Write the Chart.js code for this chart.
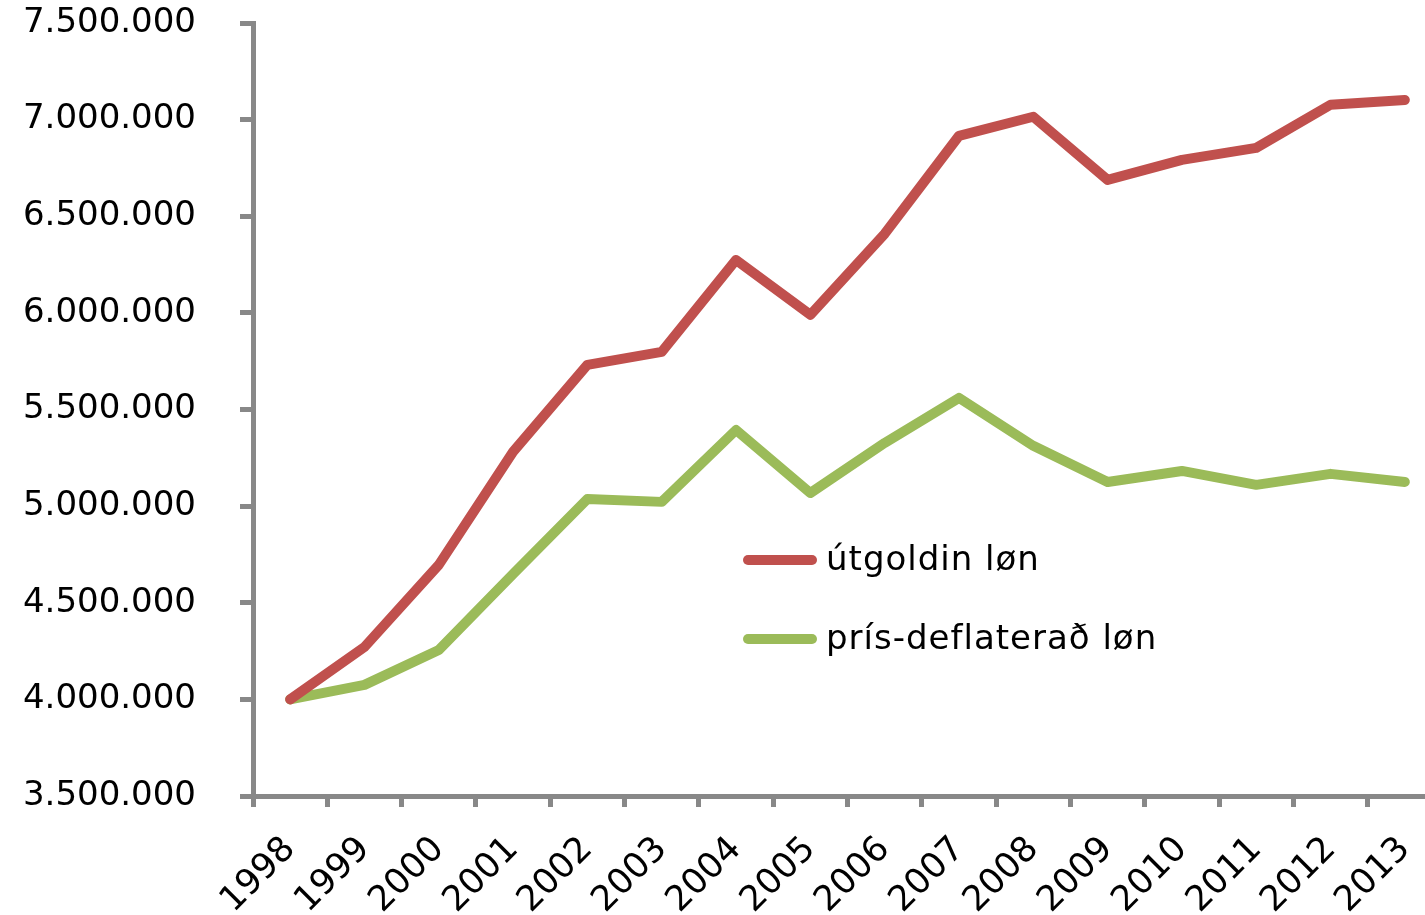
<!DOCTYPE html>
<html>
<head>
<meta charset="utf-8">
<script src="https://cdn.jsdelivr.net/npm/chart.js@4/dist/chart.umd.min.js"></script>
<style>
  html, body { margin: 0; padding: 0; background: #fff; overflow: hidden; }
  #wrap { width: 1445px; height: 915px; }
</style>
</head>
<body>
<div id="wrap"><canvas id="myChart"></canvas></div>
<script>
// Data
const years = ['1998', '1999', '2000', '2001', '2002', '2003', '2004', '2005',
               '2006', '2007', '2008', '2009', '2010', '2011', '2012', '2013'];
const utgoldin = [4000000, 4271000, 4696000, 5281000, 5731000, 5798000, 6274000, 5990000,
                  6409000, 6916000, 7015000, 6688000, 6792000, 6854000, 7077000, 7102000];
const deflaterad = [4000000, 4075000, 4256000, 4649000, 5037000, 5022000, 5394000, 5068000,
                    5327000, 5560000, 5312000, 5125000, 5182000, 5110000, 5167000, 5125000];
const seriesNames = ['útgoldin løn', 'prís-deflaterað løn'];
const yMin = 3500000, yMax = 7500000, yStep = 500000;

const font = "'DejaVu Sans', Verdana, sans-serif";
const gray = '#888888';

// legend drawn inside the plot, like the original
const insideLegend = {
  id: 'insideLegend',
  afterDraw(chart) {
    const ctx = chart.ctx;
    ctx.save();
    chart.data.datasets.forEach((ds, i) => {
      const y = 560 + i * 79;
      ctx.strokeStyle = ds.borderColor;
      ctx.lineWidth = 10;
      ctx.lineCap = 'round';
      ctx.beginPath();
      ctx.moveTo(748, y);
      ctx.lineTo(812, y);
      ctx.stroke();
      ctx.fillStyle = '#000';
      ctx.font = '34px ' + font;
      ctx.letterSpacing = '1px';
      ctx.textBaseline = 'middle';
      ctx.fillText(ds.label, 826, y + 1);
    });
    ctx.restore();
  }
};

let ctx = document.getElementById('myChart').getContext('2d');
let myChart = new Chart(ctx, {
  type: 'line',
  data: {
    labels: years,
    datasets: [{
      label: seriesNames[0],
      data: utgoldin,
      borderColor: '#C0504D',
      backgroundColor: '#C0504D',
      borderWidth: 10,
      pointRadius: 0,
      tension: 0,
      borderCapStyle: 'round',
      borderJoinStyle: 'round'
    }, {
      label: seriesNames[1],
      data: deflaterad,
      borderColor: '#9BBB59',
      backgroundColor: '#9BBB59',
      borderWidth: 10,
      pointRadius: 0,
      tension: 0,
      borderCapStyle: 'round',
      borderJoinStyle: 'round'
    }]
  },
  options: {
    responsive: true,
    maintainAspectRatio: false,
    animation: false,
    layout: { padding: { top: 23, right: 3, bottom: 0, left: 0 } },
    plugins: {
      legend: { display: false },
      tooltip: { enabled: false }
    },
    scales: {
      x: {
        offset: true,
        grid: {
          offset: true,
          drawOnChartArea: false,
          tickLength: 11,
          tickWidth: 5,
          tickColor: gray
        },
        border: { display: true, color: gray, width: 5 },
        ticks: {
          autoSkip: false,
          maxRotation: 45,
          minRotation: 45,
          padding: 22,
          color: '#000',
          font: { family: font, size: 35 }
        },
        afterFit(scale) {
          scale.height = 119;
          scale.paddingLeft = 0;
          scale.paddingRight = 0;
        }
      },
      y: {
        min: yMin,
        max: yMax,
        grid: {
          drawOnChartArea: false,
          tickLength: 13,
          tickWidth: 5,
          tickColor: gray
        },
        border: { display: true, color: gray, width: 5 },
        ticks: {
          stepSize: yStep,
          padding: 44,
          color: '#000',
          font: { family: font, size: 34 },
          callback: v => v.toLocaleString('de-DE')
        },
        afterFit(scale) {
          scale.width = 253;
          scale.paddingTop = 0;
          scale.paddingBottom = 0;
        }
      }
    }
  },
  plugins: [insideLegend]
});
</script>
</body>
</html>
